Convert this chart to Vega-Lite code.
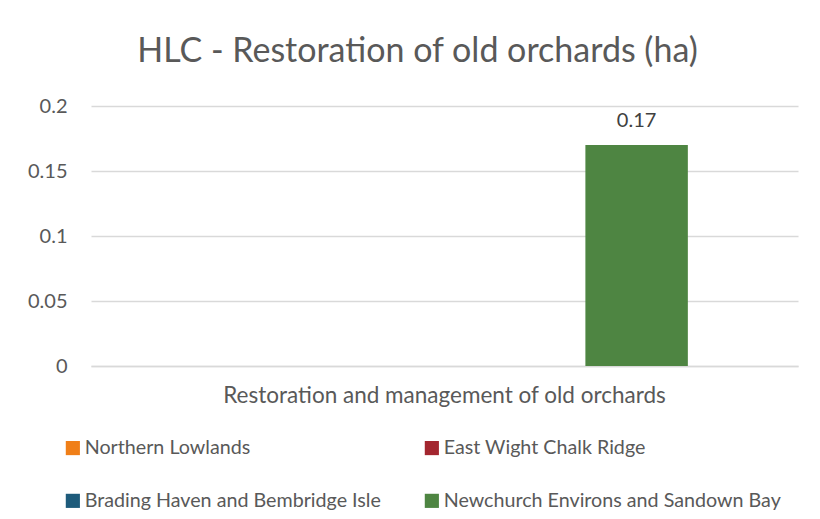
{
  "$schema": "https://vega.github.io/schema/vega-lite/v6.json",
  "width": 707,
  "height": 260,
  "autosize": {"type": "none"},
  "padding": {"left": 91, "top": 106, "right": 22, "bottom": 153},
  "background": "white",
  "config": {
    "font": "Lato",
    "view": {"stroke": null}
  },
  "title": {
    "text": "HLC - Restoration of old orchards (ha)",
    "font": "Lato",
    "fontSize": 34,
    "fontWeight": "normal",
    "color": "#595959",
    "anchor": "middle",
    "dx": -27,
    "offset": 27
  },
  "data": {
    "values": [
      {"category": "Restoration and management of old orchards", "series": "Northern Lowlands", "value": null},
      {"category": "Restoration and management of old orchards", "series": "East Wight Chalk Ridge", "value": null},
      {"category": "Restoration and management of old orchards", "series": "Brading Haven and Bembridge Isle", "value": null},
      {"category": "Restoration and management of old orchards", "series": "Newchurch Environs and Sandown Bay", "value": 0.17}
    ]
  },
  "encoding": {
    "x": {
      "field": "category",
      "type": "nominal",
      "scale": {"paddingInner": 0, "paddingOuter": 0.19},
      "axis": {
        "title": null,
        "labelAngle": 0,
        "labelFontSize": 22.5,
        "labelColor": "#595959",
        "labelPadding": 18,
        "labelLimit": 0,
        "ticks": false,
        "domainColor": "#D9D9D9",
        "domainWidth": 1.5
      }
    },
    "xOffset": {
      "field": "series",
      "type": "nominal",
      "scale": {
        "domain": ["Northern Lowlands", "East Wight Chalk Ridge", "Brading Haven and Bembridge Isle", "Newchurch Environs and Sandown Bay"],
        "paddingInner": 0.2,
        "paddingOuter": 0.1
      }
    },
    "y": {
      "field": "value",
      "type": "quantitative",
      "scale": {"domain": [0, 0.2], "nice": false},
      "axis": {
        "title": null,
        "values": [0, 0.05, 0.1, 0.15, 0.2],
        "format": "~g",
        "labelFontSize": 20,
        "labelColor": "#595959",
        "labelPadding": 24,
        "ticks": false,
        "domain": false,
        "gridColor": "#D9D9D9",
        "gridWidth": 1.3
      }
    }
  },
  "layer": [
    {
      "mark": {"type": "bar"},
      "encoding": {
        "color": {
          "field": "series",
          "type": "nominal",
          "scale": {
            "domain": ["Northern Lowlands", "East Wight Chalk Ridge", "Brading Haven and Bembridge Isle", "Newchurch Environs and Sandown Bay"],
            "range": ["#F07F18", "#A3262F", "#1E5B7B", "#4E8542"]
          },
          "legend": {
            "title": null,
            "orient": "none",
            "direction": "horizontal",
            "legendX": -28,
            "legendY": 332,
            "columns": 2,
            "symbolType": "square",
            "symbolSize": 200,
            "symbolStrokeWidth": 0,
            "labelFontSize": 19.7,
            "labelColor": "#595959",
            "labelOffset": 2,
            "labelLimit": 0,
            "columnPadding": 41,
            "rowPadding": 32
          }
        }
      }
    },
    {
      "mark": {"type": "text", "baseline": "bottom", "dy": -14, "fontSize": 20, "color": "#404040"},
      "encoding": {
        "text": {"field": "value", "type": "quantitative", "format": "~g"}
      }
    }
  ]
}
